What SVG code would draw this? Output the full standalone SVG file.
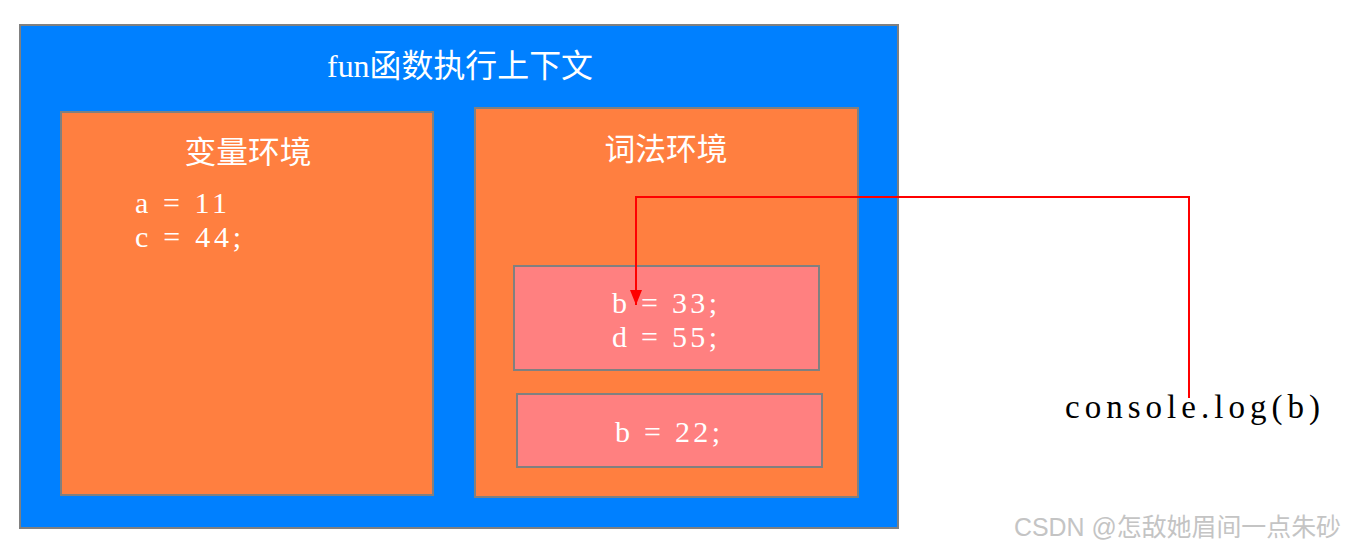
<svg xmlns="http://www.w3.org/2000/svg" width="1346" height="550" viewBox="0 0 1346 550">
  <style>
    .box { stroke: #808080; stroke-width: 2; }
    .outer { fill: #0080FF; }
    .env { fill: #FF7F40; }
    .scope { fill: #FF8080; }
    .hd { font-family: "Liberation Serif", "Noto Sans CJK SC", serif; fill: #FFFFFF; text-anchor: middle; }
    .code { font-family: "Liberation Serif", "Noto Serif CJK SC", serif; font-size: 30px; fill: #FFFFFF; }
    .black { font-family: "Liberation Serif", serif; font-size: 33px; fill: #000000; }
    .wm { font-family: "Liberation Sans", "Noto Sans CJK SC", sans-serif; font-size: 25px; fill: #C4C4C4; }
    .link { fill: none; stroke: #FF0000; stroke-width: 2; }
  </style>
  <defs>
    <marker id="arrow" markerUnits="userSpaceOnUse" markerWidth="16" markerHeight="12" refX="15" refY="6" orient="auto" viewBox="0 0 16 12">
      <path d="M0,0 L15,6 L0,12 z" fill="#FF0000"/>
    </marker>
  </defs>
  <rect width="1346" height="550" fill="#FFFFFF"/>

  <g id="fun-context">
    <rect class="box outer" x="20" y="25" width="878" height="503"/>
    <text class="hd" x="460" y="77" font-size="32" textLength="266" lengthAdjust="spacingAndGlyphs">fun函数执行上下文</text>
  </g>

  <g id="variable-env">
    <rect class="box env" x="61" y="112" width="372" height="383"/>
    <text class="hd" x="248" y="163" font-size="31" textLength="127" lengthAdjust="spacingAndGlyphs">变量环境</text>
    <text class="code" x="135" y="213" textLength="92" lengthAdjust="spacing">a = 11</text>
    <text class="code" x="135" y="247" textLength="106" lengthAdjust="spacing">c = 44;</text>
  </g>

  <g id="lexical-env">
    <rect class="box env" x="475" y="108" width="383" height="389"/>
    <text class="hd" x="666" y="160" font-size="31" textLength="123" lengthAdjust="spacingAndGlyphs">词法环境</text>
  </g>

  <g id="block-scope-inner">
    <rect class="box scope" x="514" y="266" width="305" height="104"/>
    <text class="code" x="612" y="313" textLength="105" lengthAdjust="spacing">b = 33;</text>
    <text class="code" x="612" y="347" textLength="105" lengthAdjust="spacing">d = 55;</text>
  </g>

  <g id="block-scope-outer">
    <rect class="box scope" x="517" y="394" width="305" height="73"/>
    <text class="code" x="615" y="442" textLength="105" lengthAdjust="spacing">b = 22;</text>
  </g>

  <g id="connectors">
    <path class="link" d="M1189,398 V197 H636 V305" marker-end="url(#arrow)"/>
  </g>

  <g id="console-log">
    <text class="black" x="1065" y="418" textLength="255" lengthAdjust="spacing">console.log(b)</text>
  </g>

  <text class="wm" x="1014" y="536" textLength="327" lengthAdjust="spacingAndGlyphs">CSDN @怎敌她眉间一点朱砂</text>
</svg>
